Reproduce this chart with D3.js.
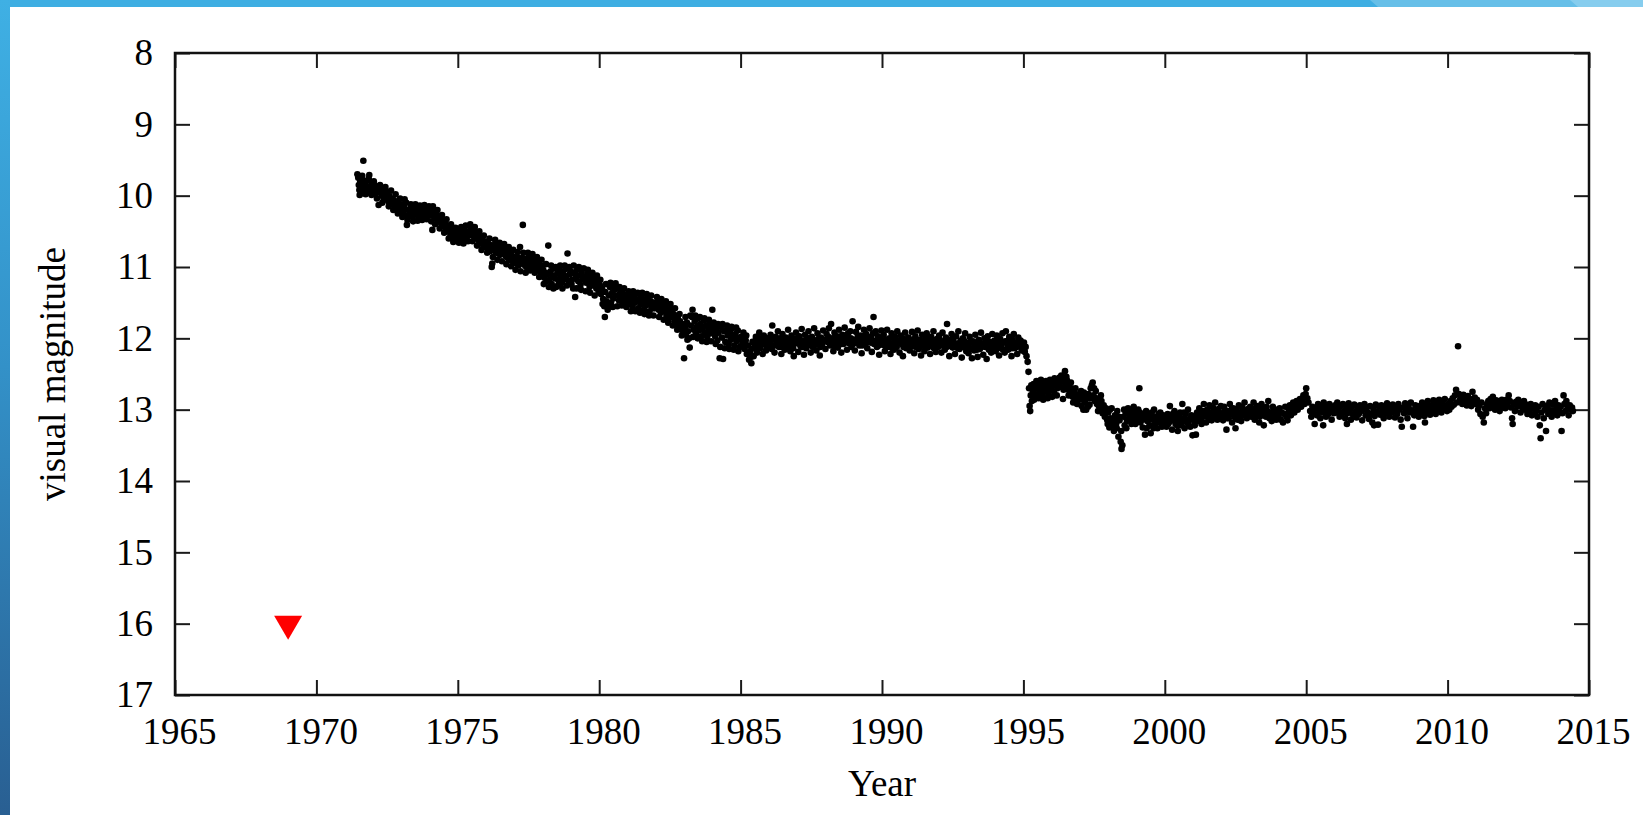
<!DOCTYPE html>
<html>
<head>
<meta charset="utf-8">
<script src="https://cdn.jsdelivr.net/npm/d3@7"></script>
<style>
html,body{margin:0;padding:0;background:#fff;}
svg{display:block;}
</style>
</head>
<body>
<svg id="chart" width="1643" height="815"></svg>
<script>
// ---------- DATA ----------
const xTicks = [1965,1970,1975,1980,1985,1990,1995,2000,2005,2010,2015];
const yTicks = [8,9,10,11,12,13,14,15,16,17];
const xTitle = "Year";
const yTitle = "visual magnitude";

// upper limit (non-detection) marker
const upperLimit = [[1969.0, 16.0]];

// visual observations [year, magnitude]
const obs1970s = [
[1971.48,9.75],[1971.50,9.85],[1971.52,9.92],[1971.55,9.80],[1971.57,9.97],[1971.60,9.88],[1971.63,9.78],[1971.66,9.51],[1971.68,9.92],[1971.70,9.84],[1971.73,9.95],[1971.76,9.86],[1971.80,9.79],[1971.83,9.90],[1971.87,9.71],[1971.90,9.96],[1971.93,9.87],[1971.97,9.82],
[1972.01,9.92],[1972.05,9.85],[1972.09,9.98],[1972.12,9.90],[1972.16,9.95],[1972.20,10.13],[1972.23,9.93],[1972.27,9.88],[1972.31,10.00],[1972.35,9.94],[1972.38,10.05],[1972.42,9.97],[1972.46,10.03],[1972.50,9.95],[1972.54,10.08],[1972.58,10.01],[1972.62,10.10],[1972.66,10.04],[1972.70,10.12],[1972.74,10.06],[1972.78,10.15],[1972.82,10.09],[1972.86,10.19],[1972.90,10.11],[1972.94,10.20],[1972.98,10.14],
[1973.02,10.12],[1973.06,10.22],[1973.10,10.16],[1973.14,10.28],[1973.18,10.10],[1973.20,10.41],[1973.24,10.20],[1973.28,10.27],[1973.32,10.18],[1973.36,10.24],[1973.40,10.30],[1973.44,10.21],[1973.48,10.26],[1973.52,10.17],[1973.56,10.23],[1973.60,10.29],[1973.64,10.20],[1973.68,10.25],[1973.72,10.18],[1973.76,10.27],[1973.80,10.22],[1973.84,10.19],[1973.88,10.26],[1973.92,10.21],[1973.96,10.28],
[1974.00,10.23],[1974.04,10.19],[1974.08,10.27],[1974.10,10.48],[1974.14,10.22],[1974.18,10.30],[1974.22,10.25],[1974.26,10.33],[1974.30,10.28],[1974.34,10.36],[1974.38,10.31],[1974.42,10.40],[1974.46,10.35],[1974.50,10.43],[1974.54,10.38],[1974.58,10.47],[1974.62,10.42],[1974.66,10.50],[1974.70,10.45],[1974.74,10.55],[1974.78,10.48],[1974.82,10.58],[1974.86,10.52],[1974.90,10.60],[1974.94,10.54],[1974.98,10.49],
[1975.02,10.56],[1975.06,10.50],[1975.10,10.62],[1975.14,10.53],[1975.18,10.58],[1975.22,10.48],[1975.26,10.60],[1975.30,10.52],[1975.34,10.57],[1975.38,10.50],[1975.42,10.55],[1975.46,10.47],[1975.50,10.52],[1975.55,10.45],[1975.58,10.58],[1975.62,10.51],[1975.66,10.60],[1975.70,10.55],[1975.74,10.63],[1975.78,10.58],[1975.82,10.66],[1975.86,10.61],[1975.90,10.70],[1975.94,10.64],[1975.98,10.72],
[1976.02,10.66],[1976.06,10.74],[1976.10,10.68],[1976.14,10.78],[1976.18,10.70],[1976.20,11.00],[1976.22,10.95],[1976.26,10.75],[1976.30,10.69],[1976.34,10.79],[1976.38,10.72],[1976.42,10.81],[1976.46,10.74],[1976.50,10.83],[1976.54,10.76],[1976.58,10.70],[1976.62,10.80],[1976.66,10.73],[1976.70,10.85],[1976.74,10.78],[1976.78,10.88],[1976.82,10.80],[1976.86,10.90],[1976.90,10.83],[1976.94,10.92],[1976.98,10.86],
[1977.02,10.88],[1977.06,10.95],[1977.10,10.86],[1977.14,10.98],[1977.18,10.90],[1977.20,10.72],[1977.24,10.93],[1977.28,10.87],[1977.30,10.41],[1977.34,10.97],[1977.38,10.89],[1977.42,11.00],[1977.46,10.92],[1977.50,10.86],[1977.54,10.96],[1977.58,10.90],[1977.62,11.02],[1977.66,10.94],[1977.70,10.88],[1977.74,10.99],[1977.78,10.92],[1977.82,11.04],[1977.86,10.96],[1977.90,11.06],[1977.94,10.98],[1977.98,11.10],
[1978.02,11.04],[1978.06,11.15],[1978.10,11.08],[1978.14,11.20],[1978.18,11.10],[1978.20,10.70],[1978.24,11.18],[1978.28,11.06],[1978.32,11.24],[1978.36,11.12],[1978.40,11.02],[1978.44,11.16],[1978.48,11.28],[1978.52,11.09],[1978.56,11.19],[1978.60,11.05],[1978.64,11.14],[1978.68,11.22],[1978.72,11.08],[1978.76,11.17],[1978.80,11.03],[1978.84,11.13],[1978.88,10.81],[1978.92,11.20],[1978.96,11.10],
[1979.00,11.06],[1979.04,11.18],[1979.08,11.30],[1979.12,11.09],[1979.15,11.42],[1979.18,11.15],[1979.22,11.04],[1979.26,11.20],[1979.30,11.12],[1979.34,11.25],[1979.38,11.08],[1979.42,11.17],[1979.46,11.02],[1979.50,11.14],[1979.54,11.22],[1979.58,11.10],[1979.62,11.19],[1979.66,11.28],[1979.70,11.13],[1979.74,11.21],[1979.78,11.16],[1979.82,11.26],[1979.86,11.19],[1979.90,11.30],[1979.94,11.22],[1979.98,11.35],
[1971.45,9.70],[1971.53,9.99],[1971.62,9.72],[1971.74,9.98],[1971.85,9.76],[1971.95,9.99],
[1972.03,9.80],[1972.14,10.04],[1972.25,9.85],[1972.33,10.10],[1972.44,9.88],[1972.56,10.15],[1972.64,9.93],[1972.72,10.20],[1972.80,9.98],[1972.88,10.25],[1972.96,10.04],
[1973.04,10.30],[1973.12,10.05],[1973.22,10.34],[1973.34,10.12],[1973.42,10.36],[1973.50,10.12],[1973.58,10.35],[1973.66,10.14],[1973.74,10.34],[1973.82,10.13],[1973.90,10.33],[1973.98,10.15],
[1974.06,10.36],[1974.12,10.15],[1974.20,10.40],[1974.28,10.20],[1974.36,10.46],[1974.44,10.27],[1974.52,10.52],[1974.60,10.33],[1974.68,10.60],[1974.76,10.40],[1974.84,10.65],[1974.92,10.45],
[1975.04,10.66],[1975.12,10.44],[1975.20,10.67],[1975.28,10.42],[1975.36,10.64],[1975.44,10.40],[1975.52,10.64],[1975.60,10.44],[1975.68,10.70],[1975.76,10.50],[1975.84,10.76],[1975.92,10.56],
[1976.04,10.80],[1976.12,10.60],[1976.24,10.86],[1976.32,10.62],[1976.40,10.90],[1976.48,10.66],[1976.56,10.92],[1976.64,10.68],[1976.72,10.96],[1976.80,10.72],[1976.88,10.99],[1976.96,10.76],
[1977.04,11.04],[1977.12,10.79],[1977.22,11.06],[1977.32,10.80],[1977.40,11.08],[1977.48,10.80],[1977.56,11.05],[1977.64,10.82],[1977.72,11.08],[1977.80,10.86],[1977.88,11.14],[1977.96,10.90],
[1978.04,11.24],[1978.12,10.96],[1978.22,11.28],[1978.30,10.98],[1978.38,11.30],[1978.46,11.00],[1978.54,11.26],[1978.62,10.98],[1978.70,11.30],[1978.78,10.98],[1978.86,11.26],[1978.94,11.00],
[1979.02,11.24],[1979.10,10.98],[1979.20,11.30],[1979.28,11.00],[1979.36,11.32],[1979.44,11.02],[1979.52,11.34],[1979.60,11.04],[1979.68,11.36],[1979.76,11.08],[1979.84,11.40],[1979.92,11.12]
];

const obs1980s = [
[1980.02,11.25],[1980.06,11.38],[1980.10,11.30],[1980.14,11.45],[1980.18,11.55],[1980.20,11.70],[1980.22,11.35],[1980.26,11.48],[1980.30,11.60],[1980.34,11.40],[1980.38,11.28],[1980.42,11.50],[1980.46,11.36],[1980.50,11.44],[1980.54,11.32],[1980.58,11.23],[1980.62,11.40],[1980.66,11.30],[1980.70,11.47],[1980.74,11.37],[1980.78,11.42],[1980.82,11.33],[1980.86,11.50],[1980.90,11.39],[1980.94,11.46],[1980.98,11.41],
[1981.02,11.44],[1981.06,11.52],[1981.10,11.40],[1981.14,11.48],[1981.18,11.56],[1981.22,11.43],[1981.26,11.50],[1981.30,11.38],[1981.34,11.47],[1981.38,11.58],[1981.42,11.45],[1981.46,11.53],[1981.50,11.42],[1981.54,11.49],[1981.58,11.60],[1981.62,11.46],[1981.66,11.54],[1981.70,11.44],[1981.74,11.51],[1981.78,11.62],[1981.82,11.48],[1981.86,11.56],[1981.90,11.50],[1981.94,11.58],[1981.98,11.53],
[1982.02,11.55],[1982.06,11.48],[1982.10,11.60],[1982.14,11.52],[1982.18,11.64],[1982.22,11.57],[1982.26,11.50],[1982.30,11.62],[1982.34,11.55],[1982.38,11.68],[1982.42,11.60],[1982.46,11.72],[1982.50,11.64],[1982.54,11.58],[1982.58,11.70],[1982.62,11.66],[1982.66,11.76],[1982.70,11.68],[1982.74,11.80],[1982.78,11.72],[1982.82,11.84],[1982.86,11.76],[1982.90,11.88],[1982.94,11.80],[1982.98,11.92],
[1983.00,12.28],[1983.03,11.84],[1983.07,11.95],[1983.10,11.78],[1983.14,11.90],[1983.18,12.00],[1983.20,12.13],[1983.24,11.82],[1983.28,11.70],[1983.30,11.60],[1983.34,11.88],[1983.38,11.76],[1983.42,11.94],[1983.46,11.83],[1983.50,11.72],[1983.54,11.89],[1983.58,11.80],[1983.62,11.97],[1983.66,11.85],[1983.70,11.75],[1983.74,11.92],[1983.78,11.82],[1983.82,11.98],[1983.86,11.87],[1983.90,11.78],[1983.94,11.93],[1983.98,11.85],
[1984.00,11.60],[1984.03,11.90],[1984.07,11.82],[1984.10,11.97],[1984.14,11.86],[1984.18,12.03],[1984.22,11.92],[1984.26,12.28],[1984.30,11.84],[1984.34,11.99],[1984.38,12.29],[1984.42,11.90],[1984.46,12.05],[1984.50,11.88],[1984.54,11.96],[1984.58,12.08],[1984.62,11.92],[1984.66,12.02],[1984.70,11.86],[1984.74,11.98],[1984.78,12.10],[1984.82,11.94],[1984.86,12.04],[1984.90,11.89],[1984.94,12.00],[1984.98,12.12],
[1985.02,11.98],[1985.06,12.08],[1985.10,11.92],[1985.14,12.15],[1985.18,12.03],[1985.22,12.22],[1985.26,12.10],[1985.30,12.30],[1985.34,12.18],[1985.38,12.35],[1985.42,12.05],[1985.46,12.25],[1985.50,12.12],[1985.54,11.98],[1985.58,12.20],[1985.62,12.06],[1985.66,11.92],[1985.70,12.14],[1985.74,12.02],[1985.78,12.22],[1985.82,11.96],[1985.86,12.09],[1985.90,12.17],[1985.94,12.00],[1985.98,12.12],
[1986.02,12.05],[1986.06,11.95],[1986.10,12.15],[1986.12,11.82],[1986.16,12.02],[1986.20,12.20],[1986.24,11.98],[1986.28,12.08],[1986.32,11.90],[1986.36,12.12],[1986.40,12.00],[1986.44,12.22],[1986.48,11.94],[1986.52,12.06],[1986.56,12.16],[1986.60,11.99],[1986.64,12.10],[1986.68,11.88],[1986.72,12.04],[1986.76,12.18],[1986.80,11.96],[1986.84,12.09],[1986.88,12.25],[1986.92,12.01],[1986.96,11.92],
[1987.00,12.07],[1987.04,12.19],[1987.08,11.97],[1987.12,12.11],[1987.16,11.87],[1987.20,12.03],[1987.24,12.23],[1987.28,11.95],[1987.32,12.14],[1987.36,12.00],[1987.40,11.90],[1987.44,12.08],[1987.48,12.20],[1987.52,11.98],[1987.56,12.12],[1987.60,11.86],[1987.64,12.04],[1987.68,12.17],[1987.72,11.93],[1987.76,12.06],[1987.80,12.24],[1987.84,11.99],[1987.88,12.10],[1987.92,11.89],[1987.96,12.02],
[1988.00,12.15],[1988.04,11.94],[1988.08,12.05],[1988.12,11.86],[1988.16,12.10],[1988.20,11.80],[1988.24,12.00],[1988.28,12.18],[1988.32,11.92],[1988.36,12.06],[1988.40,11.97],[1988.44,12.13],[1988.48,11.88],[1988.52,12.03],[1988.56,12.20],[1988.60,11.95],[1988.64,12.08],[1988.68,11.85],[1988.72,12.01],[1988.76,12.16],[1988.80,11.93],[1988.84,12.07],[1988.88,11.90],[1988.92,12.12],[1988.96,11.76],
[1989.00,12.02],[1989.04,12.17],[1989.08,11.91],[1989.12,12.05],[1989.16,11.84],[1989.20,12.10],[1989.24,11.96],[1989.28,12.21],[1989.32,12.00],[1989.36,11.88],[1989.40,12.08],[1989.44,11.94],[1989.48,12.14],[1989.52,11.99],[1989.56,11.86],[1989.60,12.06],[1989.64,12.19],[1989.68,11.93],[1989.70,11.70],[1989.74,12.04],[1989.78,11.90],[1989.82,12.12],[1989.86,11.97],[1989.90,12.23],[1989.94,12.01],[1989.98,11.89],
[1980.04,11.18],[1980.12,11.52],[1980.24,11.24],[1980.32,11.55],[1980.40,11.22],[1980.48,11.56],[1980.56,11.26],[1980.64,11.55],[1980.72,11.28],[1980.80,11.54],[1980.88,11.30],[1980.96,11.56],
[1981.04,11.34],[1981.12,11.62],[1981.20,11.34],[1981.28,11.62],[1981.36,11.36],[1981.44,11.64],[1981.52,11.36],[1981.60,11.66],[1981.68,11.38],[1981.76,11.68],[1981.84,11.40],[1981.92,11.68],
[1982.04,11.42],[1982.12,11.70],[1982.20,11.45],[1982.28,11.74],[1982.36,11.48],[1982.44,11.78],[1982.52,11.52],[1982.60,11.82],[1982.68,11.58],[1982.76,11.88],[1982.84,11.66],[1982.92,11.96],
[1983.05,11.70],[1983.12,12.02],[1983.22,11.68],[1983.32,11.98],[1983.40,11.68],[1983.48,12.00],[1983.56,11.70],[1983.64,12.04],[1983.72,11.72],[1983.80,12.05],[1983.88,11.74],[1983.96,12.04],
[1984.05,11.78],[1984.12,12.08],[1984.20,11.80],[1984.28,12.12],[1984.36,11.80],[1984.44,12.14],[1984.52,11.82],[1984.60,12.15],[1984.68,11.84],[1984.76,12.16],[1984.84,11.85],[1984.92,12.18],
[1985.04,12.02],[1985.12,12.10],[1985.20,11.96],[1985.28,12.20],[1985.36,12.26],[1985.44,12.14],[1985.52,12.04],[1985.60,12.12],[1985.68,12.00],[1985.76,12.08],[1985.84,12.02],[1985.92,12.10],
[1986.04,12.08],[1986.14,12.00],[1986.22,12.10],[1986.30,12.02],[1986.38,12.06],[1986.46,12.12],[1986.54,12.00],[1986.62,12.05],[1986.70,12.11],[1986.78,12.03],[1986.86,12.14],[1986.94,12.06],
[1987.02,12.00],[1987.10,12.06],[1987.18,12.12],[1987.26,12.04],[1987.34,12.08],[1987.42,12.00],[1987.50,12.10],[1987.58,12.03],[1987.66,12.09],[1987.74,12.01],[1987.82,12.12],[1987.90,12.04],
[1988.02,12.04],[1988.10,11.98],[1988.18,12.06],[1988.26,12.10],[1988.34,12.00],[1988.42,12.05],[1988.50,11.98],[1988.58,12.08],[1988.66,12.02],[1988.74,11.96],[1988.82,12.06],[1988.90,12.00],[1988.98,12.08],
[1989.06,12.06],[1989.14,11.98],[1989.22,12.04],[1989.30,12.10],[1989.38,12.00],[1989.46,12.06],[1989.54,12.02],[1989.62,11.98],[1989.72,12.08],[1989.80,12.03],[1989.88,12.10],[1989.96,12.06]
];

const obs1990s = [
[1990.02,12.09],[1990.06,11.95],[1990.10,12.18],[1990.14,12.02],[1990.18,11.88],[1990.22,12.12],[1990.26,12.00],[1990.30,12.22],[1990.34,11.93],[1990.38,12.07],[1990.42,12.16],[1990.46,11.98],[1990.50,12.10],[1990.54,11.90],[1990.58,12.04],[1990.62,12.20],[1990.66,11.96],[1990.70,12.08],[1990.74,12.25],[1990.78,12.01],[1990.82,11.92],[1990.86,12.14],[1990.90,12.05],[1990.94,11.99],[1990.98,12.17],
[1991.02,12.03],[1991.06,11.91],[1991.10,12.11],[1991.14,12.21],[1991.18,11.97],[1991.22,12.06],[1991.26,11.89],[1991.30,12.15],[1991.34,12.02],[1991.38,12.24],[1991.42,11.95],[1991.46,12.09],[1991.50,12.18],[1991.54,12.00],[1991.58,11.93],[1991.62,12.13],[1991.66,12.05],[1991.70,12.22],[1991.74,11.98],[1991.78,12.10],[1991.82,11.90],[1991.86,12.07],[1991.90,12.19],[1991.94,12.01],[1991.98,12.12],
[1992.02,11.96],[1992.06,12.08],[1992.10,12.20],[1992.14,11.92],[1992.18,12.04],[1992.22,12.16],[1992.26,11.99],[1992.30,11.80],[1992.34,12.11],[1992.38,12.25],[1992.42,12.02],[1992.46,11.94],[1992.50,12.13],[1992.54,12.06],[1992.58,12.22],[1992.62,11.97],[1992.66,12.09],[1992.70,11.90],[1992.74,12.15],[1992.78,12.03],[1992.82,12.27],[1992.86,12.00],[1992.90,12.12],[1992.94,11.93],[1992.98,12.18],
[1993.02,12.07],[1993.06,12.21],[1993.10,11.98],[1993.14,12.14],[1993.18,12.28],[1993.22,12.04],[1993.26,12.17],[1993.30,11.95],[1993.34,12.10],[1993.38,12.26],[1993.42,12.02],[1993.46,12.15],[1993.50,11.92],[1993.54,12.08],[1993.58,12.23],[1993.62,12.00],[1993.66,12.12],[1993.70,12.29],[1993.74,11.97],[1993.78,12.16],[1993.82,12.05],[1993.86,12.20],[1993.90,11.94],[1993.94,12.11],[1993.98,12.03],
[1994.02,12.18],[1994.06,11.96],[1994.10,12.09],[1994.14,12.24],[1994.18,12.01],[1994.22,12.13],[1994.26,11.93],[1994.30,12.06],[1994.34,12.20],[1994.38,11.90],[1994.42,12.04],[1994.46,12.16],[1994.50,11.98],[1994.54,12.10],[1994.58,12.25],[1994.62,12.02],[1994.66,11.94],[1994.70,12.14],[1994.74,12.07],[1994.78,12.22],[1994.82,11.99],[1994.86,12.11],[1994.90,12.03],[1994.94,12.17],[1994.98,12.08],
[1995.02,12.06],[1995.05,12.19],[1995.08,12.12],[1995.11,12.25],[1995.15,12.33],[1995.18,12.47],[1995.20,12.70],[1995.22,12.95],[1995.24,13.02],[1995.26,12.80],[1995.28,12.66],[1995.30,12.88],[1995.33,12.74],[1995.36,12.64],[1995.40,12.78],[1995.44,12.70],[1995.48,12.83],[1995.52,12.68],[1995.56,12.76],[1995.60,12.62],[1995.64,12.72],[1995.68,12.80],[1995.72,12.66],[1995.76,12.74],[1995.80,12.60],[1995.84,12.70],[1995.88,12.78],[1995.92,12.64],[1995.96,12.72],
[1996.00,12.68],[1996.04,12.60],[1996.08,12.75],[1996.12,12.65],[1996.16,12.58],[1996.20,12.70],[1996.24,12.62],[1996.28,12.55],[1996.32,12.68],[1996.36,12.60],[1996.40,12.85],[1996.44,12.57],[1996.47,12.46],[1996.50,12.66],[1996.54,12.59],[1996.58,12.72],[1996.62,12.64],[1996.66,12.78],[1996.70,12.70],[1996.74,12.82],[1996.78,12.74],[1996.82,12.88],[1996.86,12.78],[1996.90,12.92],[1996.94,12.80],[1996.98,12.86],
[1997.02,12.82],[1997.06,12.95],[1997.10,12.86],[1997.14,12.76],[1997.18,12.90],[1997.22,13.00],[1997.26,12.84],[1997.30,12.78],[1997.34,12.93],[1997.38,12.70],[1997.42,12.66],[1997.45,12.62],[1997.48,12.80],[1997.52,12.88],[1997.56,12.74],[1997.60,12.92],[1997.64,13.02],[1997.68,12.85],[1997.72,12.96],[1997.76,12.88],[1997.80,13.05],[1997.84,12.94],[1997.88,13.10],[1997.92,12.98],[1997.96,13.14],
[1998.00,13.04],[1998.04,13.25],[1998.08,13.12],[1998.12,12.98],[1998.16,13.18],[1998.20,13.30],[1998.24,13.08],[1998.28,13.20],[1998.32,13.02],[1998.36,13.38],[1998.40,13.15],[1998.44,13.45],[1998.47,13.55],[1998.50,13.50],[1998.54,13.10],[1998.58,13.22],[1998.62,13.05],[1998.66,13.16],[1998.70,12.98],[1998.74,13.12],[1998.78,13.04],[1998.82,13.20],[1998.86,13.08],[1998.90,12.96],[1998.94,13.14],[1998.98,13.02],
[1999.02,13.10],[1999.06,13.00],[1999.10,12.70],[1999.14,13.18],[1999.18,13.06],[1999.22,13.25],[1999.26,13.12],[1999.30,13.35],[1999.34,13.02],[1999.38,13.16],[1999.42,13.08],[1999.46,13.22],[1999.50,13.33],[1999.54,13.04],[1999.58,13.14],[1999.62,13.00],[1999.66,13.20],[1999.70,13.10],[1999.74,13.26],[1999.78,13.06],[1999.82,13.18],[1999.86,13.12],[1999.90,13.24],[1999.94,13.08],[1999.98,13.20],
[1990.04,12.04],[1990.12,12.10],[1990.20,12.02],[1990.28,12.08],[1990.36,12.14],[1990.44,12.04],[1990.52,12.12],[1990.60,12.06],[1990.68,12.02],[1990.76,12.12],[1990.84,12.06],[1990.92,12.10],
[1991.04,12.08],[1991.12,12.02],[1991.20,12.12],[1991.28,12.04],[1991.36,12.10],[1991.44,12.06],[1991.52,12.12],[1991.60,12.03],[1991.68,12.10],[1991.76,12.05],[1991.84,12.14],[1991.92,12.08],
[1992.04,12.02],[1992.12,12.10],[1992.20,12.06],[1992.28,12.12],[1992.36,12.04],[1992.44,12.10],[1992.52,12.02],[1992.60,12.08],[1992.68,12.14],[1992.76,12.06],[1992.84,12.12],[1992.92,12.04],
[1993.04,12.12],[1993.12,12.06],[1993.20,12.14],[1993.28,12.08],[1993.36,12.16],[1993.44,12.06],[1993.52,12.12],[1993.60,12.10],[1993.68,12.04],[1993.76,12.12],[1993.84,12.08],[1993.92,12.14],
[1994.04,12.06],[1994.12,12.14],[1994.20,12.08],[1994.28,12.16],[1994.36,12.04],[1994.44,12.10],[1994.52,12.06],[1994.60,12.14],[1994.68,12.08],[1994.76,12.12],[1994.84,12.05],[1994.92,12.10],
[1995.38,12.86],[1995.46,12.60],[1995.54,12.84],[1995.62,12.58],[1995.70,12.86],[1995.78,12.62],[1995.86,12.84],[1995.94,12.58],
[1996.02,12.82],[1996.10,12.56],[1996.18,12.80],[1996.26,12.68],[1996.34,12.52],[1996.42,12.72],[1996.52,12.54],[1996.60,12.80],[1996.68,12.62],[1996.76,12.90],[1996.84,12.70],[1996.92,12.84],
[1997.04,12.74],[1997.12,13.00],[1997.20,12.80],[1997.28,12.96],[1997.36,12.84],[1997.50,12.70],[1997.58,12.84],[1997.66,12.94],[1997.74,12.80],[1997.82,12.98],[1997.90,13.04],[1997.98,13.20],
[1998.06,13.00],[1998.14,13.22],[1998.22,13.14],[1998.30,13.26],[1998.38,13.10],[1998.46,13.30],[1998.56,13.00],[1998.64,13.26],[1998.72,13.06],[1998.80,13.14],[1998.88,13.02],[1998.96,13.20],
[1999.04,13.16],[1999.12,13.04],[1999.20,13.14],[1999.28,13.08],[1999.36,13.26],[1999.44,13.14],[1999.52,13.10],[1999.60,13.26],[1999.68,13.14],[1999.76,13.16],[1999.84,13.04],[1999.92,13.14]
];

const obs2000s = [
[2000.02,13.14],[2000.06,13.24],[2000.10,13.06],[2000.14,13.18],[2000.18,12.95],[2000.22,13.10],[2000.26,13.28],[2000.30,13.12],[2000.34,13.02],[2000.38,13.20],[2000.42,13.08],[2000.46,13.30],[2000.50,13.16],[2000.54,13.04],[2000.58,13.22],[2000.62,12.92],[2000.66,13.12],[2000.70,13.26],[2000.74,13.06],[2000.78,13.18],[2000.82,13.00],[2000.86,13.14],[2000.90,13.24],[2000.94,13.08],[2000.98,13.36],
[2001.02,13.12],[2001.06,13.22],[2001.10,13.35],[2001.14,13.04],[2001.18,13.16],[2001.22,12.98],[2001.26,13.10],[2001.30,13.20],[2001.34,13.02],[2001.38,12.92],[2001.42,13.08],[2001.46,13.18],[2001.50,13.00],[2001.54,13.12],[2001.58,12.94],[2001.62,13.06],[2001.66,13.15],[2001.70,12.97],[2001.74,13.09],[2001.78,12.90],[2001.82,13.04],[2001.86,13.14],[2001.90,12.99],[2001.94,13.07],[2001.98,12.95],
[2002.02,13.05],[2002.06,13.15],[2002.10,12.96],[2002.14,13.08],[2002.18,13.28],[2002.22,13.02],[2002.26,13.12],[2002.30,12.92],[2002.34,13.06],[2002.38,13.18],[2002.42,12.98],[2002.46,13.10],[2002.50,13.26],[2002.54,13.00],[2002.58,13.14],[2002.62,12.94],[2002.66,13.06],[2002.70,13.16],[2002.74,12.97],[2002.78,13.08],[2002.82,12.90],[2002.86,13.04],[2002.90,13.12],[2002.94,12.99],[2002.98,13.08],
[2003.02,12.96],[2003.06,13.10],[2003.10,13.02],[2003.14,12.90],[2003.18,13.14],[2003.22,13.04],[2003.26,12.95],[2003.30,13.08],[2003.34,13.18],[2003.38,13.00],[2003.42,12.92],[2003.46,13.06],[2003.50,13.22],[2003.54,12.98],[2003.58,13.10],[2003.62,13.02],[2003.66,12.88],[2003.70,13.12],[2003.74,13.04],[2003.78,13.16],[2003.82,12.96],[2003.86,13.08],[2003.90,13.00],[2003.94,13.14],[2003.98,13.05],
[2004.02,13.10],[2004.06,12.98],[2004.10,13.14],[2004.14,13.04],[2004.18,13.18],[2004.22,13.06],[2004.26,12.96],[2004.30,13.10],[2004.34,13.15],[2004.38,13.02],[2004.42,12.94],[2004.46,13.08],[2004.50,12.98],[2004.54,12.90],[2004.58,13.04],[2004.62,12.95],[2004.66,12.88],[2004.70,13.00],[2004.74,12.92],[2004.78,12.85],[2004.82,12.96],[2004.86,12.88],[2004.90,12.80],[2004.94,12.92],[2004.98,12.78],[2005.00,12.70],
[2005.04,12.84],[2005.08,12.90],[2005.14,13.02],[2005.18,13.10],[2005.22,12.96],[2005.26,13.05],[2005.30,13.20],[2005.34,12.98],[2005.38,13.08],[2005.42,12.92],[2005.46,13.02],[2005.50,13.12],[2005.54,12.95],[2005.58,13.04],[2005.62,12.90],[2005.66,13.00],[2005.70,13.10],[2005.74,12.96],[2005.78,13.06],[2005.82,12.92],[2005.86,13.02],[2005.90,13.14],[2005.94,12.98],[2005.98,13.05],
[2006.02,12.94],[2006.06,13.04],[2006.10,12.90],[2006.14,13.00],[2006.18,13.10],[2006.22,12.95],[2006.26,13.06],[2006.30,12.92],[2006.34,13.02],[2006.38,13.12],[2006.42,12.97],[2006.46,13.05],[2006.50,12.91],[2006.54,13.01],[2006.58,13.14],[2006.62,12.96],[2006.66,13.07],[2006.70,12.93],[2006.74,13.03],[2006.78,13.11],[2006.82,12.98],[2006.86,13.06],[2006.90,12.94],[2006.94,13.02],[2006.98,13.15],
[2007.02,13.00],[2007.06,12.92],[2007.10,13.08],[2007.14,12.97],[2007.18,13.04],[2007.22,13.13],[2007.26,12.95],[2007.30,13.06],[2007.34,13.18],[2007.38,12.99],[2007.42,13.09],[2007.46,12.93],[2007.50,13.03],[2007.54,13.21],[2007.58,12.96],[2007.62,13.07],[2007.66,12.94],[2007.70,13.02],[2007.74,13.12],[2007.78,12.97],[2007.82,13.05],[2007.86,12.91],[2007.90,13.01],[2007.94,13.10],[2007.98,12.96],
[2008.02,13.04],[2008.06,12.93],[2008.10,13.02],[2008.14,13.11],[2008.18,12.96],[2008.22,13.06],[2008.26,12.92],[2008.30,13.00],[2008.34,13.14],[2008.38,13.24],[2008.42,12.97],[2008.46,13.05],[2008.50,12.91],[2008.54,13.02],[2008.58,13.12],[2008.62,12.95],[2008.66,13.04],[2008.70,12.90],[2008.74,13.01],[2008.78,13.24],[2008.82,13.08],[2008.86,12.94],[2008.90,13.03],[2008.94,12.98],[2008.98,13.10],
[2009.02,12.95],[2009.06,13.04],[2009.10,12.90],[2009.14,13.00],[2009.18,13.09],[2009.22,12.93],[2009.26,13.02],[2009.30,12.88],[2009.34,12.98],[2009.38,13.07],[2009.42,12.94],[2009.46,13.01],[2009.50,12.87],[2009.54,12.97],[2009.58,13.06],[2009.62,12.92],[2009.66,13.00],[2009.70,12.86],[2009.74,12.96],[2009.78,13.04],[2009.82,12.90],[2009.86,12.98],[2009.90,12.85],[2009.94,12.95],[2009.98,13.02],
[2000.04,13.10],[2000.12,13.20],[2000.20,13.16],[2000.28,13.06],[2000.36,13.14],[2000.44,13.22],[2000.52,13.10],[2000.60,13.16],[2000.68,13.04],[2000.76,13.14],[2000.84,13.20],[2000.92,13.12],
[2001.04,13.16],[2001.12,13.08],[2001.20,13.06],[2001.28,13.14],[2001.36,13.10],[2001.44,13.02],[2001.52,13.08],[2001.60,13.14],[2001.68,13.04],[2001.76,13.10],[2001.84,13.02],[2001.92,13.10],
[2002.04,13.10],[2002.12,13.02],[2002.20,13.12],[2002.28,13.06],[2002.36,13.00],[2002.44,13.06],[2002.52,13.12],[2002.60,13.04],[2002.68,13.10],[2002.76,13.02],[2002.84,13.08],[2002.92,13.04],
[2003.04,13.04],[2003.12,13.08],[2003.20,12.98],[2003.28,13.02],[2003.36,13.10],[2003.44,13.04],[2003.52,13.08],[2003.60,12.96],[2003.68,13.04],[2003.76,13.08],[2003.84,13.02],[2003.92,13.08],
[2005.60,13.22],[2006.44,13.20],[2007.40,13.22],[2009.20,13.18]
];

const obs2010s = [
[2010.02,12.92],[2010.06,13.00],[2010.10,12.88],[2010.14,12.96],[2010.18,12.84],[2010.22,12.93],[2010.26,12.80],[2010.30,12.72],[2010.33,12.90],[2010.37,12.11],[2010.40,12.78],[2010.44,12.86],[2010.48,12.82],[2010.52,12.92],[2010.56,12.79],[2010.60,12.88],[2010.64,12.84],[2010.68,12.94],[2010.72,12.81],[2010.76,12.90],[2010.80,12.85],[2010.84,12.95],[2010.88,12.75],[2010.92,12.89],[2010.96,12.83],
[2011.00,12.92],[2011.04,12.86],[2011.08,13.00],[2011.12,12.94],[2011.16,13.06],[2011.20,12.90],[2011.24,13.10],[2011.28,13.18],[2011.32,12.98],[2011.36,13.05],[2011.40,12.92],[2011.44,12.88],[2011.48,12.98],[2011.52,12.85],[2011.56,12.94],[2011.60,12.82],[2011.64,12.91],[2011.68,13.00],[2011.72,12.87],[2011.76,12.96],[2011.80,12.89],[2011.84,13.02],[2011.88,12.93],[2011.92,12.86],[2011.96,12.97],
[2012.00,12.90],[2012.04,12.98],[2012.08,12.86],[2012.12,12.94],[2012.16,12.80],[2012.20,12.88],[2012.24,12.97],[2012.28,13.12],[2012.30,13.20],[2012.34,12.92],[2012.38,13.02],[2012.42,12.89],[2012.46,12.96],[2012.50,12.86],[2012.54,12.93],[2012.58,13.04],[2012.62,12.90],[2012.66,12.98],[2012.70,12.88],[2012.74,13.00],[2012.78,12.93],[2012.82,13.06],[2012.86,12.95],[2012.90,13.02],[2012.94,12.92],[2012.98,13.08],
[2013.02,12.98],[2013.06,13.06],[2013.10,12.94],[2013.14,13.02],[2013.18,13.10],[2013.22,12.96],[2013.26,13.22],[2013.29,13.40],[2013.32,13.04],[2013.36,12.92],[2013.40,13.12],[2013.44,13.00],[2013.48,13.30],[2013.52,12.95],[2013.56,13.06],[2013.60,12.90],[2013.64,13.01],[2013.68,13.10],[2013.72,12.93],[2013.76,13.04],[2013.80,12.88],[2013.84,12.99],[2013.88,13.08],[2013.92,12.94],[2013.96,13.03],
[2014.00,12.96],[2014.03,13.30],[2014.06,13.05],[2014.10,12.80],[2014.13,12.92],[2014.17,13.02],[2014.20,12.88],[2014.24,12.98],[2014.28,13.08],[2014.32,12.94],[2014.36,13.00],[2014.40,12.97],[2014.43,13.02]
];

// ---------- DRAWING ----------
const svg = d3.select("#chart");
const W = 1643, H = 815;
const plot = {left:175, right:1589, top:53, bottom:695};
const FONT = "'Liberation Serif','Times New Roman',Times,serif";

// decorative blue slide frame
const defs = svg.append("defs");
const lg = defs.append("linearGradient").attr("id","leftbar").attr("x1",0).attr("y1",0).attr("x2",0).attr("y2",1);
lg.append("stop").attr("offset","0%").attr("stop-color","#3fb0e4");
lg.append("stop").attr("offset","45%").attr("stop-color","#3391c8");
lg.append("stop").attr("offset","100%").attr("stop-color","#295f92");
svg.append("rect").attr("x",0).attr("y",0).attr("width",W).attr("height",7).attr("fill","#3eaee2");
svg.append("path").attr("d","M1370,0 L1643,0 L1643,7 L1378,7 Z").attr("fill","#66bfe8");
svg.append("path").attr("d","M1570,0 L1643,0 L1643,7 L1578,7 Z").attr("fill","#86cdee");
svg.append("rect").attr("x",0).attr("y",0).attr("width",10).attr("height",H).attr("fill","url(#leftbar)");

const x = d3.scaleLinear().domain([1965,2015]).range([plot.left, plot.right]);
const y = d3.scaleLinear().domain([8,17]).range([plot.top, plot.bottom]);

const tickLen = 15;
function styleAxis(g){
  g.select(".domain").remove();
  g.selectAll(".tick line").attr("stroke","#1a1a1a").attr("stroke-width",2);
  g.selectAll(".tick text").attr("fill","#000").style("font-family",FONT).style("font-size","37px");
}
svg.append("g").attr("transform",`translate(0,${plot.bottom})`)
  .call(d3.axisBottom(x).tickValues(xTicks).tickFormat(d3.format("d")).tickSizeInner(-tickLen).tickSizeOuter(0).tickPadding(23))
  .call(styleAxis)
  .selectAll(".tick text").attr("dx","4");
svg.append("g").attr("transform",`translate(0,${plot.top})`)
  .call(d3.axisTop(x).tickValues(xTicks).tickSizeInner(-tickLen).tickSizeOuter(0))
  .call(styleAxis).call(g=>g.selectAll(".tick text").remove());
svg.append("g").attr("transform",`translate(${plot.left},0)`)
  .call(d3.axisLeft(y).tickValues(yTicks).tickFormat(d3.format("d")).tickSizeInner(-tickLen).tickSizeOuter(0).tickPadding(22))
  .call(styleAxis);
svg.append("g").attr("transform",`translate(${plot.right},0)`)
  .call(d3.axisRight(y).tickValues(yTicks).tickSizeInner(-tickLen).tickSizeOuter(0))
  .call(styleAxis).call(g=>g.selectAll(".tick text").remove());

// frame
svg.append("rect").attr("x",plot.left).attr("y",plot.top)
  .attr("width",plot.right-plot.left).attr("height",plot.bottom-plot.top)
  .attr("fill","none").attr("stroke","#111").attr("stroke-width",2.5);

// observations
const allObs = [].concat(obs1970s, obs1980s, obs1990s, obs2000s, obs2010s);
svg.append("g").selectAll("circle").data(allObs).join("circle")
  .attr("cx",d=>x(d[0])).attr("cy",d=>y(d[1])).attr("r",3.3).attr("fill","#000");

// upper-limit marker (red down triangle)
svg.append("g").selectAll("path").data(upperLimit).join("path")
  .attr("transform",d=>`translate(${x(d[0])},${y(d[1])})`)
  .attr("d","M-14,-8 L14,-8 L0,16 Z").attr("fill","#ff0000");

// axis titles
svg.append("text").attr("x",(plot.left+plot.right)/2).attr("y",796)
  .attr("text-anchor","middle").style("font-family",FONT).style("font-size","37px").attr("fill","#000").text(xTitle);
svg.append("text").attr("transform",`translate(65,${(plot.top+plot.bottom)/2}) rotate(-90)`)
  .attr("text-anchor","middle").style("font-family",FONT).style("font-size","37px").attr("fill","#000").text(yTitle);
</script>
</body>
</html>
